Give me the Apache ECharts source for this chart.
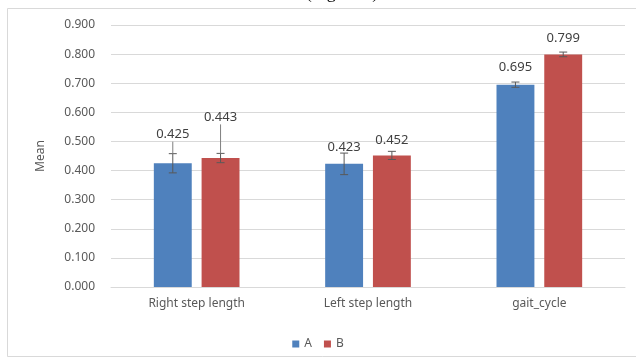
<!DOCTYPE html>
<html>
<head>
<meta charset="utf-8">
<script src="https://cdn.jsdelivr.net/npm/echarts@6/dist/echarts.min.js"></script>
<style>html,body{margin:0;padding:0;background:#fff;}#c{width:636px;height:359px;}</style>
</head>
<body>
<div id="c"></div>
<script>
var categories = ['Right step length', 'Left step length', 'gait_cycle'];
var seriesNames = ['A', 'B'];
var valuesA = [0.425, 0.423, 0.695];
var valuesB = [0.443, 0.452, 0.799];
var errA = [0.033, 0.037, 0.009];
var errB = [0.016, 0.014, 0.008];
var yTicks = [0, 0.1, 0.2, 0.3, 0.4, 0.5, 0.6, 0.7, 0.8, 0.9];

// label placement (style): pixel gap between label bottom and error cap
var labelGapA = [15, 1, 10];
var labelGapB = [32, 7, 9];

var colors = ['#4F81BD', '#C0504D'];
var barCatGap = 0.5, barGapRatio = 0.26;

function errSeries(idx, vals, errs, gaps) {
  return {
    type: 'custom',
    name: seriesNames[idx] + '_err',
    z: 10,
    data: vals.map(function (v, i) { return [i, v, errs[i], gaps[i]]; }),
    renderItem: function (params, api) {
      var i = api.value(0), v = api.value(1), e = api.value(2), g = api.value(3);
      var band = api.size([1, 0])[0];
      var w = band * (1 - barCatGap) / (2 + barGapRatio);
      var off = (w + w * barGapRatio) / 2;
      var c = api.coord([i, v]);
      var x = c[0] + (idx === 0 ? -off : off);
      var top = api.coord([i, v + e])[1];
      var bot = api.coord([i, v - e])[1];
      var st = { stroke: '#595959', lineWidth: 1 };
      var children = [
        { type: 'line', shape: { x1: x, y1: top, x2: x, y2: bot }, style: st },
        { type: 'line', shape: { x1: x - 4, y1: top, x2: x + 4, y2: top }, style: st },
        { type: 'line', shape: { x1: x - 4, y1: bot, x2: x + 4, y2: bot }, style: st }
      ];
      var labelBottom = top - g;
      if (g > 12) {
        children.push({ type: 'line', shape: { x1: x, y1: labelBottom + 3, x2: x, y2: top }, style: { stroke: '#7f7f7f', lineWidth: 1 } });
      }
      children.push({
        type: 'text',
        style: {
          x: x, y: labelBottom + 2, text: v.toFixed(3),
          align: 'center', verticalAlign: 'bottom',
          fill: '#404040', font: '13px "Noto Sans", sans-serif'
        }
      });
      return { type: 'group', children: children };
    }
  };
}

var chart = echarts.init(document.getElementById('c'), null, { renderer: 'canvas' });
chart.setOption({
  animation: false,
  backgroundColor: '#fff',
  graphic: [
    { type: 'rect', shape: { x: 7.5, y: 8.5, width: 640, height: 348 }, style: { fill: 'none', stroke: '#d9d9d9', lineWidth: 1 } },
    { type: 'text', x: 342, y: 2, style: { text: '(Figure 3)', font: '18px "Liberation Serif", serif', fill: '#000', align: 'center', verticalAlign: 'bottom' } }
  ],
  grid: { left: 111, right: 11, top: 25, bottom: 72 },
  legend: {
    data: seriesNames,
    top: 333,
    left: 'center',
    icon: 'rect',
    itemWidth: 7, itemHeight: 7, itemGap: 12,
    textStyle: { color: '#595959', fontSize: 12, fontFamily: 'Noto Sans' }
  },
  xAxis: {
    type: 'category',
    data: categories,
    axisLine: { lineStyle: { color: '#d9d9d9' } },
    axisTick: { show: false },
    axisLabel: { color: '#595959', fontSize: 12, fontFamily: 'Noto Sans', margin: 11 }
  },
  yAxis: {
    type: 'value',
    min: 0, max: 0.9, interval: 0.1,
    name: 'Mean',
    nameLocation: 'middle',
    nameGap: 64,
    nameTextStyle: { color: '#595959', fontSize: 12, fontFamily: 'Noto Sans' },
    axisLine: { show: false },
    axisTick: { show: false },
    splitLine: { lineStyle: { color: '#d9d9d9' } },
    axisLabel: {
      color: '#595959', fontSize: 12, fontFamily: 'Noto Sans', margin: 16,
      formatter: function (v) { return v.toFixed(3); }
    }
  },
  series: [
    { type: 'bar', name: 'A', data: valuesA, itemStyle: { color: colors[0] }, barCategoryGap: (barCatGap * 100) + '%', barGap: (barGapRatio * 100) + '%' },
    { type: 'bar', name: 'B', data: valuesB, itemStyle: { color: colors[1] }, barCategoryGap: (barCatGap * 100) + '%', barGap: (barGapRatio * 100) + '%' },
    errSeries(0, valuesA, errA, labelGapA),
    errSeries(1, valuesB, errB, labelGapB)
  ]
});
</script>
</body>
</html>
